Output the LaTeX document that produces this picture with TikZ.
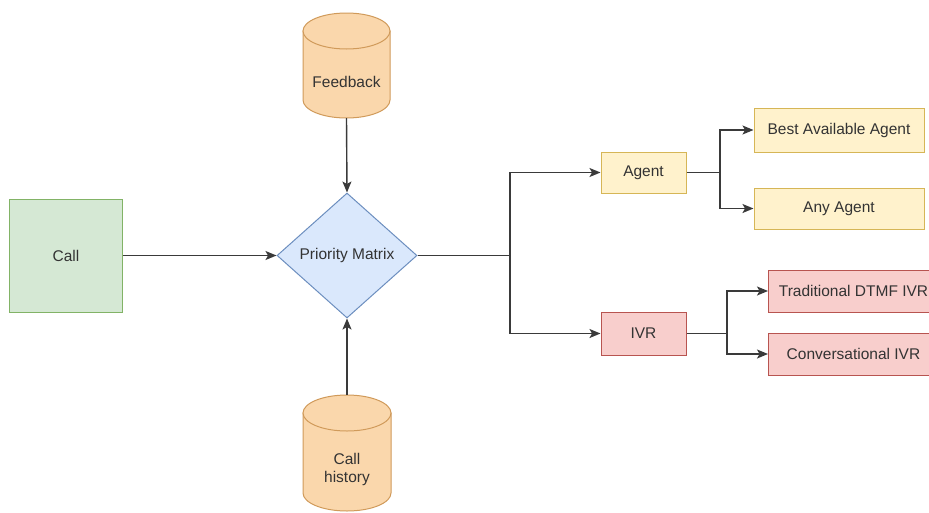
\documentclass[tikz,border=0pt]{standalone}
\usepackage{fontspec}
\setmainfont{Liberation Sans}
\usetikzlibrary{shapes.geometric,arrows.meta}
\definecolor{txt}{HTML}{333333}
\definecolor{gfill}{HTML}{D5E8D4}\definecolor{gdraw}{HTML}{82B366}
\definecolor{bfill}{HTML}{DAE8FC}\definecolor{bdraw}{HTML}{6C8EBF}
\definecolor{ofill}{HTML}{FAD7AC}\definecolor{odraw}{HTML}{D09A5A}
\definecolor{yfill}{HTML}{FFF2CC}\definecolor{ydraw}{HTML}{D6B656}
\definecolor{rfill}{HTML}{F8CECC}\definecolor{rdraw}{HTML}{B85450}
\definecolor{lin}{HTML}{3A3A3A}
\tikzset{
  lbl/.style={text=txt,font=\fontsize{15.5}{18}\selectfont,align=center},
  box/.style={lbl,draw,line width=1pt,inner sep=0pt},
  greenbox/.style={box,fill=gfill,draw=gdraw},
  yellowbox/.style={box,fill=yfill,draw=ydraw},
  redbox/.style={box,fill=rfill,draw=rdraw},
  conn/.style={draw=lin,line width=1.4pt},
  arr/.style={conn,-{Stealth[length=11pt,width=9pt,inset=2.5pt]}},
  cylfill/.style={fill=ofill,draw=odraw,line width=1pt}
}
\newcommand{\mycyl}[7]{% name, x1, y1, x2, y2, ry, text
  \pgfmathsetmacro{\cylrx}{(#4-#2)/2}
  \pgfmathsetmacro{\cylcx}{(#2+#4)/2}
  \pgfmathsetmacro{\cylcy}{(#3+#5)/2}
  \pgfmathsetmacro{\cylty}{(#3+2*#6+#5)/2-1.5}
  \pgfmathsetmacro{\cylw}{#4-#2}
  \pgfmathsetmacro{\cylh}{#5-#3}
  \path[cylfill] (#2,#3+#6) -- (#2,#5-#6) arc[start angle=180,end angle=0,x radius=\cylrx,y radius=#6] -- (#4,#3+#6) -- cycle;
  \path[cylfill] (\cylcx,#3+#6) ellipse[x radius=\cylrx,y radius=#6];
  \node[inner sep=0pt,minimum width=\cylw,minimum height=\cylh] (#1) at (\cylcx,\cylcy) {};
  \node[lbl] at (\cylcx,\cylty) {#7};
}
\begin{document}
\begin{tikzpicture}[x=1pt,y=-1pt]
\useasboundingbox (0,0) rectangle (929,512);
% nodes
\node[greenbox,minimum width=113,minimum height=113] (call) at (66,255.5) {Call};
\node[lbl,diamond,draw=bdraw,fill=bfill,line width=1pt,inner sep=0pt,minimum width=140,minimum height=125] (pm) at (347,255.5) {Priority Matrix};
\mycyl{fb}{303}{13}{390}{118}{18}{Feedback}
\mycyl{ch}{303}{395}{391}{511}{18}{Call\\history}
\node[yellowbox,minimum width=85,minimum height=41] (agent) at (643.5,172.5) {Agent};
\node[yellowbox,minimum width=170,minimum height=44] (best) at (839,130) {Best Available Agent};
\node[yellowbox,minimum width=170,minimum height=41] (any) at (839,208.5) {Any Agent};
\node[redbox,minimum width=85,minimum height=43] (ivr) at (643.5,333.5) {IVR};
\node[redbox,minimum width=170,minimum height=42,anchor=west] (dtmf) at (768,291) {Traditional DTMF IVR};
\node[redbox,minimum width=170,minimum height=42,anchor=west] (conv) at (768,354) {Conversational IVR};
% branch points
\coordinate (b1) at (510,255.5);
\coordinate (b2) at (720,172.5);
\coordinate (b3) at (727,333.5);
% connectors
\draw[arr] (call.east) -- (pm.west);
\draw[arr] (fb.south) -- (pm.north);
\draw[arr] (ch.north) -- (pm.south);
\draw[arr] (pm.east) -- (b1) |- (agent.west);
\draw[arr] (b1) |- (ivr.west);
\draw[arr] (agent.east) -- (b2) |- (best.west);
\draw[arr] (b2) |- (any.west);
\draw[arr] (ivr.east) -- (b3) |- (dtmf.west);
\draw[arr] (b3) |- (conv.west);
\end{tikzpicture}
\end{document}
